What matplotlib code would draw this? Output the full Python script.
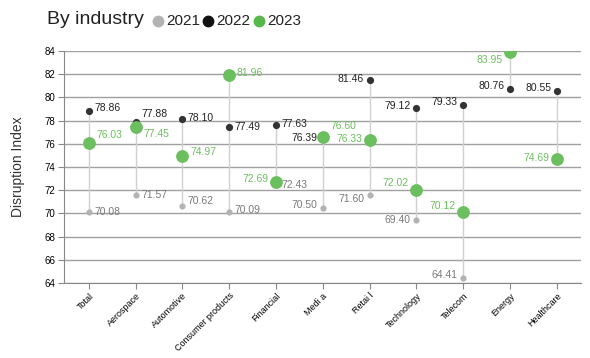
import matplotlib
matplotlib.use("Agg")
import matplotlib.pyplot as plt
from matplotlib.lines import Line2D
import numpy as np

plt.rcParams['font.family'] = ['Liberation Sans', 'DejaVu Sans']

categories = ["Total", "Aerospace", "Automotive", "Consumer products", "Financial",
              "Media", "Retail", "Technology", "Telecom", "Energy", "Healthcare"]
tick_labels = ["Total", "Aerospace", "Automotive", "Consumer products", "Financial",
               "Medi a", "Retai l", "Technology", "Telecom", "Energy", "Healthcare"]
v2021 = [70.08, 71.57, 70.62, 70.09, 72.43, 70.50, 71.60, 69.40, 64.41, np.nan, np.nan]
v2022 = [78.86, 77.88, 78.10, 77.49, 77.63, 76.39, 81.46, 79.12, 79.33, 80.76, 80.55]
v2023 = [76.03, 77.45, 74.97, 81.96, 72.69, 76.60, 76.33, 72.02, 70.12, 83.95, 74.69]

# label placement: (side, dy in points)
pos2021 = [('r', 0), ('r', 0), ('r', 4), ('r', 2), ('r', 0), ('l', 2), ('l', -3), ('l', 0), ('l', 2), None, None]
pos2022 = [('r', 2), ('r', 6), ('r', 1), ('r', 0), ('r', 1), ('l', 1), ('l', 1), ('l', 1), ('l', 2), ('l', 2), ('l', 2)]
pos2023 = [('r', 6), ('r', -5), ('r', 3), ('r', 1), ('l', 2), ('r', 8), ('l', 1), ('l', 5), ('l', 4), ('l', -6), ('l', 1)]

c21, c22, c23 = '#b3b3b3', '#333333', '#6cbf5f'

fig = plt.figure(figsize=(5.9, 3.58), dpi=100)
ax = fig.add_axes([0.1085, 0.2095, 0.877, 0.648])
x = np.arange(len(categories))

for i in x:
    vals = [v for v in (v2021[i], v2022[i], v2023[i]) if not np.isnan(v)]
    ax.plot([i, i], [min(vals), max(vals)], color='#d0d0d0', lw=1, zorder=2)

ax.scatter(x, v2021, s=20, color=c21, zorder=3, linewidths=0)
ax.scatter(x, v2022, s=27, color=c22, zorder=4, linewidths=0)
ax.scatter(x, v2023, s=85, color=c23, zorder=5, linewidths=0)

def label(vals, poss, color, off=5):
    for i, (v, p) in enumerate(zip(vals, poss)):
        if p is None or np.isnan(v):
            continue
        side, dy = p
        dx = off if side == 'r' else -off
        ax.annotate(f"{v:.2f}", (i, v), xytext=(dx, dy), textcoords='offset points',
                    ha='left' if side == 'r' else 'right', va='center',
                    fontsize=7.5, color=color, zorder=6)

label(v2021, pos2021, '#7a7a7a', off=4)
label(v2022, pos2022, '#222222', off=4)
label(v2023, pos2023, c23, off=5.5)

ax.set_xlim(-0.53, 10.53)
ax.set_ylim(64, 84)
ax.set_yticks(range(64, 85, 2))
ax.tick_params(axis='y', labelsize=7, length=4, color='#888888', pad=2)
ax.set_xticks(x)
ax.set_xticklabels(tick_labels, rotation=45, ha='right', rotation_mode='anchor', fontsize=6.5)
ax.tick_params(axis='x', length=4, color='#888888', pad=2)
ax.yaxis.grid(True, color='#a0a0a0', lw=1)
ax.set_axisbelow(True)
for s in ['top', 'right']:
    ax.spines[s].set_visible(False)
for s in ['left', 'bottom']:
    ax.spines[s].set_color('#888888')
ax.set_ylabel("Disruption Index", fontsize=10, color='#333333', labelpad=14)

fig.text(47 / 590, 1 - 20 / 358, "By industry", fontsize=14, color='#222222', va='center')
legend_items = [("2021", c21, 158), ("2022", '#111111', 208), ("2023", '#55b848', 259)]
for lab, col, px in legend_items:
    fig.add_artist(Line2D([px / 590], [1 - 21 / 358], marker='o', markersize=7.5,
                          color=col, transform=fig.transFigure, linestyle='none'))
    fig.text((px + 8) / 590, 1 - 21 / 358, lab, fontsize=11, color='#222222', va='center')

fig.savefig("out.png", dpi=100)
